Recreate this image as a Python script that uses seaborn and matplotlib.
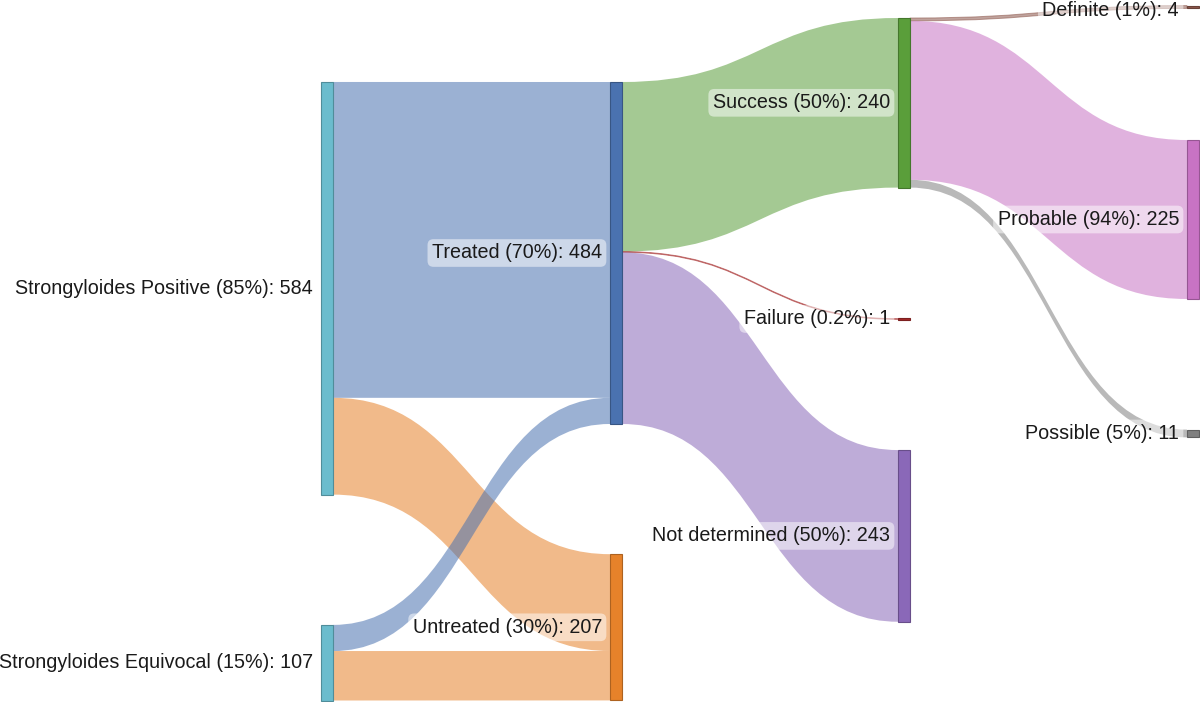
import matplotlib
matplotlib.use("Agg")
import matplotlib.pyplot as plt
from matplotlib.path import Path
from matplotlib.patches import PathPatch, Rectangle
from matplotlib.colors import to_rgb
import seaborn as sns

# ---------------- data ----------------
node_names = ["Strongyloides Positive", "Strongyloides Equivocal",
              "Treated", "Untreated",
              "Success", "Failure", "Not determined",
              "Definite", "Probable", "Possible"]
node_pcts = ["85%", "15%", "70%", "30%", "50%", "0.2%", "50%", "1%", "94%", "5%"]

link_source = [0, 0, 1, 1, 2, 2, 2, 4, 4, 4]
link_target = [2, 3, 2, 3, 4, 5, 6, 7, 8, 9]
link_value = [447, 137, 37, 70, 240, 1, 243, 4, 225, 11]

# ---------------- style / layout ----------------
node_colors = ["#6bbccd", "#6bbccd", "#4a72b0", "#e6822a", "#5a9e3a",
               "#a52a2a", "#8a68b8", "#8c564b", "#c873c4", "#808080"]
node_column = [0, 0, 1, 1, 2, 2, 2, 3, 3, 3]
node_center_px = [288.3, 662.7, 253.0, 627.3, 102.8, 319.0, 535.9, 7.0, 219.5, 433.5]
column_left_px = [321, 610, 898, 1187]
node_width = 12
px_per_unit = 0.7066
link_alpha = 0.55
label_min_y = 10.0

sns.set_theme(style="white")
plt.rcParams["font.family"] = ["Liberation Sans", "DejaVu Sans"]

fig = plt.figure(figsize=(12, 7.02), dpi=100)
ax = fig.add_axes([0, 0, 1, 1])
ax.set_xlim(0, 1200)
ax.set_ylim(702, 0)
ax.axis("off")

n = len(node_names)
in_val = [0] * n
out_val = [0] * n
for s, t, v in zip(link_source, link_target, link_value):
    out_val[s] += v
    in_val[t] += v
node_val = [max(a, b) for a, b in zip(in_val, out_val)]
node_h = [v * px_per_unit for v in node_val]
node_top = [c - h / 2 for c, h in zip(node_center_px, node_h)]
node_left = [column_left_px[c] for c in node_column]

# order links at each node
out_off = {}
in_off = {}
for i in range(n):
    outs = sorted([k for k in range(len(link_source)) if link_source[k] == i],
                  key=lambda k: node_center_px[link_target[k]])
    y = node_top[i]
    for k in outs:
        out_off[k] = y
        y += link_value[k] * px_per_unit
    ins = sorted([k for k in range(len(link_target)) if link_target[k] == i],
                 key=lambda k: node_center_px[link_source[k]])
    y = node_top[i]
    for k in ins:
        in_off[k] = y
        y += link_value[k] * px_per_unit

# draw links
for k, (s, t, v) in enumerate(zip(link_source, link_target, link_value)):
    w = v * px_per_unit
    x0 = node_left[s] + node_width
    x1 = node_left[t]
    xm = (x0 + x1) / 2
    y0 = out_off[k]
    y1 = in_off[k]
    verts = [(x0, y0), (xm, y0), (xm, y1), (x1, y1),
             (x1, y1 + w), (xm, y1 + w), (xm, y0 + w), (x0, y0 + w), (x0, y0)]
    codes = [Path.MOVETO, Path.CURVE4, Path.CURVE4, Path.CURVE4,
             Path.LINETO, Path.CURVE4, Path.CURVE4, Path.CURVE4, Path.CLOSEPOLY]
    col = node_colors[t]
    thin = w < 3
    patch = PathPatch(Path(verts, codes), facecolor=col, alpha=link_alpha,
                      edgecolor=col if thin else "none",
                      lw=0.7 if thin else 0, zorder=1)
    ax.add_patch(patch)

# draw nodes
for i in range(n):
    h = max(node_h[i], 2.0)
    top = node_center_px[i] - h / 2
    rgb = to_rgb(node_colors[i])
    edge = tuple(c * 0.75 for c in rgb)
    ax.add_patch(Rectangle((node_left[i], top), node_width, h,
                           facecolor=node_colors[i], edgecolor=edge,
                           lw=0.8, zorder=3))

# labels
for i in range(n):
    label = f"{node_names[i]} ({node_pcts[i]}): {node_val[i]}"
    ax.text(node_left[i] - 8, max(node_center_px[i], label_min_y), label,
            ha="right", va="center", fontsize=14.2, color="#1a1a1a", zorder=5,
            bbox=dict(boxstyle="round,pad=0.22,rounding_size=0.3",
                      fc="white", ec="none", alpha=0.5))

fig.savefig("out.png", dpi=100)
